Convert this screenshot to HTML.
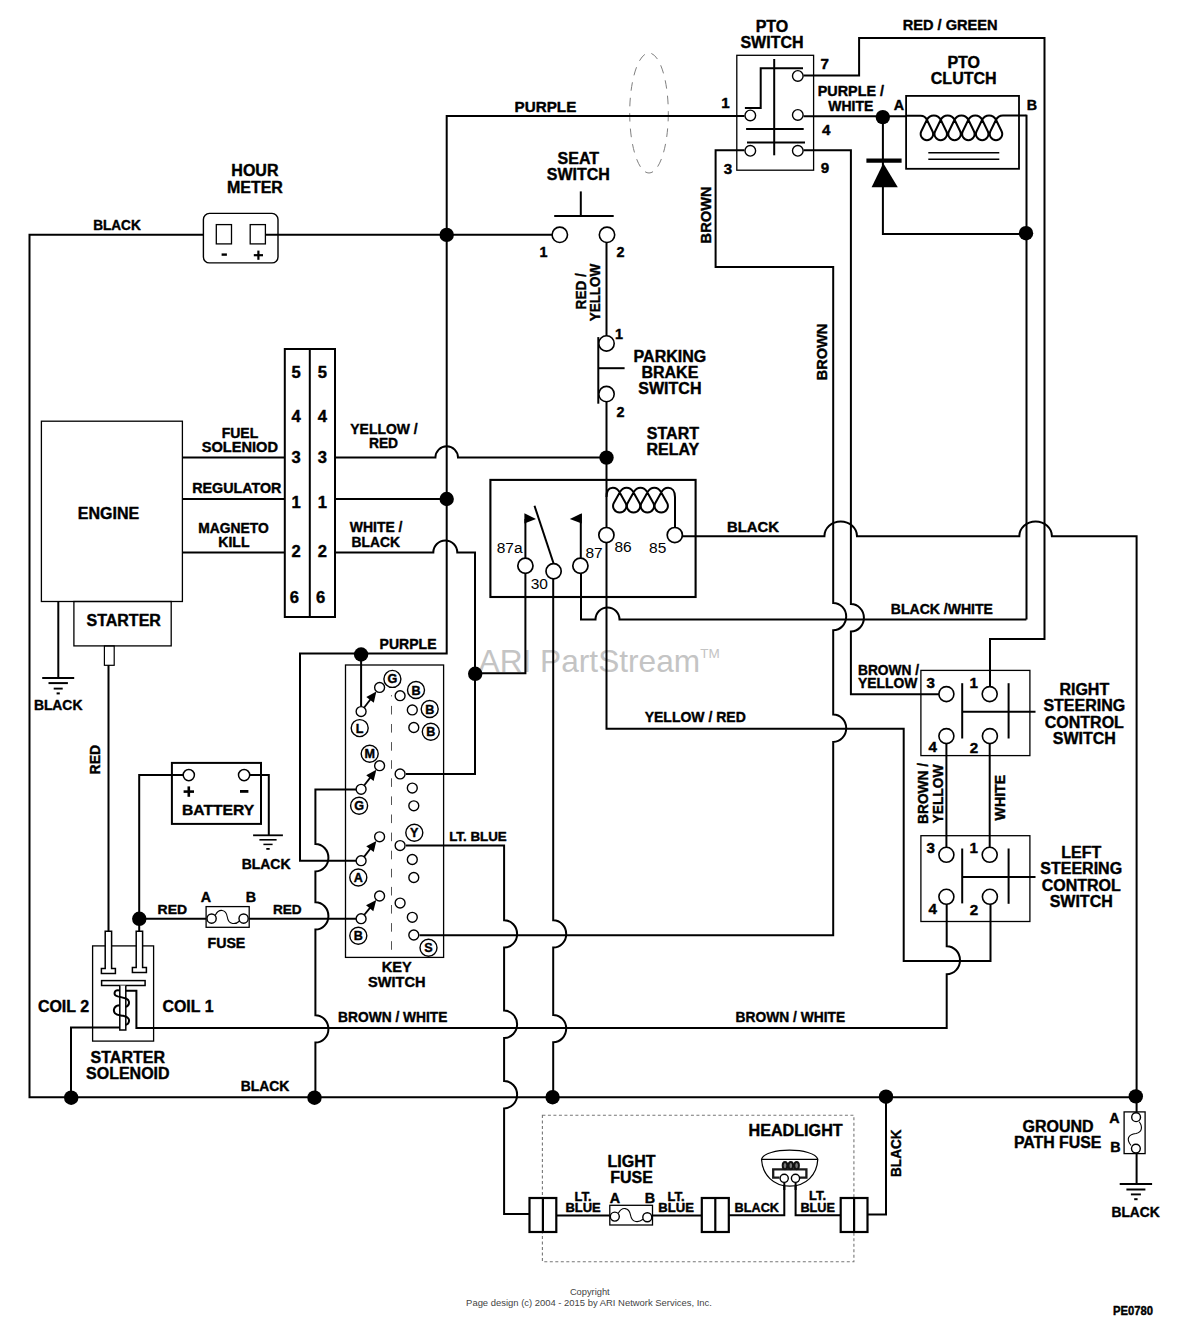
<!DOCTYPE html>
<html><head><meta charset="utf-8"><title>Wiring Diagram</title>
<style>
html,body{margin:0;padding:0;background:#fff;}
body{width:1180px;height:1336px;overflow:hidden;}
svg{display:block;font-family:"Liberation Sans",sans-serif;}
</style></head><body>
<svg width="1180" height="1336" viewBox="0 0 1180 1336" fill="none" stroke="#000" stroke-linecap="butt" stroke-linejoin="miter">
<rect x="0" y="0" width="1180" height="1336" fill="#fff" stroke="none"/>
<text x="478.6" y="672.2" font-size="30.5" text-anchor="start" font-weight="normal" fill="#c4c4c4" stroke="none" textLength="221.5" lengthAdjust="spacingAndGlyphs" >ARI PartStream</text>
<text x="700.3" y="657.5" font-size="13.5" text-anchor="start" font-weight="normal" fill="#c4c4c4" stroke="none" >TM</text>
<ellipse cx="649" cy="113" rx="19.3" ry="60" stroke="#808080" stroke-width="1" stroke-dasharray="8.5 7"/>
<rect x="542.4" y="1115.3" width="311.5" height="146.4" stroke="#777" stroke-width="1.1" stroke-dasharray="3 2.5"/>
<path d="M203.4,234.7 H29.5 V1097.2 H1136.6" stroke-width="2.0" />
<path d="M265.4,234.7 H553" stroke-width="2.0" />
<path d="M744.5,115.9 H446.7 V653.6 H300 V860.7 H356" stroke-width="2.0" />
<path d="M361.1,654 V706.5" stroke-width="2.0" />
<path d="M606.5,241.5 V336.5" stroke-width="2.0" />
<path d="M606.5,401 V528" stroke-width="2.0" />
<path d="M606.5,542.5 V728.8 H903.7 V961 H990.5 V904" stroke-width="2.0" />
<path d="M182.4,457.5 H284" stroke-width="2.0" />
<path d="M182.4,499 H284" stroke-width="2.0" />
<path d="M182.4,552.4 H284" stroke-width="2.0" />
<path d="M335.6,457.6 H435.4 A11.3,11.3 0 0 1 458.0,457.6 H606.5" stroke-width="2.0" />
<path d="M335.6,499 H446.7" stroke-width="2.0" />
<path d="M335.6,552.5 H433.3 A12,12 0 0 1 457.3,552.5 H475 V773.9 H406" stroke-width="2.0" />
<path d="M525.4,572.5 V673.2 H475" stroke-width="2.0" />
<path d="M553.2,578 V920.2 A13.014999999999999,13.7 0 0 1 553.2,947.6 V1014.9 A13.014999999999999,13.7 0 0 1 553.2,1042.3 V1097.2" stroke-width="2.0" />
<path d="M581,572.5 V619.5 H595.5 A12,12 0 0 1 619.5,619.5 H1026.4" stroke-width="2.0" />
<path d="M681.5,536.3 H824.4 A16.3,14.8 0 0 1 857,536.3 H1019.3 A16.3,14.8 0 0 1 1051.9,536.3 H1136.6 V1112" stroke-width="2.0" />
<path d="M1136.6,1153.6 V1184" stroke-width="2.0" />
<path d="M803.5,75.4 H859.1 V38 H1044.5 V639 H990 V687" stroke-width="2.0" />
<path d="M803.5,116.2 H906" stroke-width="2.0" />
<path d="M1026.5,114.8 V619.5" stroke-width="2.0" />
<path d="M882.9,117 V234 H1026" stroke-width="2.0" />
<path d="M803.5,150.2 H850.9 V604.1 A13.014999999999999,13.7 0 0 1 850.9,631.5 V694.3 H939.5" stroke-width="2.0" />
<path d="M744.5,150.2 H715.6 V266.9 H833.2 V602.9 A13.014999999999999,13.7 0 0 1 833.2,630.3 V714.5 A13.014999999999999,13.7 0 0 1 833.2,741.9 V935.2 H419.5" stroke-width="2.0" />
<path d="M946.4,743 V848" stroke-width="2.0" />
<path d="M989.7,743 V848" stroke-width="2.0" />
<path d="M946.7,904 V946.2 A13.299999999999999,14 0 0 1 946.7,974.2 V1028.1 H136.4 V990.8 H125.5" stroke-width="2.0" />
<path d="M120,1027.4 H71 V1097.2" stroke-width="2.0" />
<path d="M356,789.5 H315.4 V844.0 A13.014999999999999,13.7 0 0 1 315.4,871.4 V902.2 A13.014999999999999,13.7 0 0 1 315.4,929.6 V1015.2 A13.014999999999999,13.7 0 0 1 315.4,1042.6 V1097.2" stroke-width="2.0" />
<path d="M406,845.6 H504.1 V920.2 A13.014999999999999,13.7 0 0 1 504.1,947.6 V1010.6 A13.014999999999999,13.7 0 0 1 504.1,1038.0 V1081.0 A13.014999999999999,13.7 0 0 1 504.1,1108.4 V1214 H529.5" stroke-width="2.0" />
<path d="M556.3,1215.6 H609.8" stroke-width="2.0" />
<path d="M652.5,1215.6 H701.8" stroke-width="2.0" />
<path d="M728.8,1215.3 H784.3 V1183" stroke-width="2.0" />
<path d="M795.6,1183 V1215.3 H840.7" stroke-width="2.0" />
<path d="M867.5,1214.6 H886 V1097.2" stroke-width="2.0" />
<path d="M108.5,665 V931" stroke-width="2.0" />
<path d="M183,775.1 H139.2 V931" stroke-width="2.0" />
<path d="M139.2,918.8 H206.1" stroke-width="2.0" />
<path d="M249.2,918.8 H356" stroke-width="2.0" />
<path d="M250,775.1 H268.8 V835.4" stroke-width="2.0" />
<line x1="253.1" y1="835.3" x2="282.9" y2="835.3" stroke-width="1.8" />
<line x1="259.4" y1="839.8" x2="276.6" y2="839.8" stroke-width="1.6" />
<line x1="263.4" y1="844.4" x2="272.6" y2="844.4" stroke-width="1.5" />
<line x1="266.3" y1="848.9" x2="269.7" y2="848.9" stroke-width="1.8" />
<path d="M58.3,601.5 V677.8" stroke-width="2.0" />
<line x1="42.2" y1="678" x2="74.2" y2="678" stroke-width="2.1" />
<line x1="48.5" y1="683.1" x2="67.9" y2="683.1" stroke-width="2" />
<line x1="53.7" y1="688.6" x2="62.7" y2="688.6" stroke-width="1.9" />
<line x1="56.6" y1="693.4" x2="59.8" y2="693.4" stroke-width="2" />
<line x1="1119.7" y1="1184" x2="1152.1" y2="1184" stroke-width="2.1" />
<line x1="1126.4" y1="1189.5" x2="1145.4" y2="1189.5" stroke-width="2" />
<line x1="1130.9" y1="1194.4" x2="1140.9" y2="1194.4" stroke-width="1.9" />
<line x1="1134.2" y1="1199.2" x2="1137.6" y2="1199.2" stroke-width="2" />
<circle cx="446.7" cy="234.9" r="7.2" fill="#000" stroke="none"/>
<circle cx="606.5" cy="457.6" r="7.2" fill="#000" stroke="none"/>
<circle cx="446.7" cy="499" r="7.2" fill="#000" stroke="none"/>
<circle cx="475.2" cy="673.8" r="7.2" fill="#000" stroke="none"/>
<circle cx="361.1" cy="654.5" r="7.2" fill="#000" stroke="none"/>
<circle cx="139.3" cy="918.8" r="7.2" fill="#000" stroke="none"/>
<circle cx="71.2" cy="1097.7" r="7.2" fill="#000" stroke="none"/>
<circle cx="314.5" cy="1097.7" r="7.2" fill="#000" stroke="none"/>
<circle cx="552.6" cy="1097.2" r="7.2" fill="#000" stroke="none"/>
<circle cx="886" cy="1096.7" r="7.2" fill="#000" stroke="none"/>
<circle cx="1135.8" cy="1096.4" r="7.2" fill="#000" stroke="none"/>
<circle cx="882.8" cy="117.1" r="7.2" fill="#000" stroke="none"/>
<circle cx="1026" cy="233.2" r="7.2" fill="#000" stroke="none"/>
<rect x="203.4" y="213.4" width="74.6" height="49.5" rx="6" stroke-width="1.4" />
<rect x="216.3" y="224.6" width="15.2" height="19.3" stroke-width="1.3" fill="#fff"/>
<rect x="250.2" y="224.6" width="15.2" height="19.3" stroke-width="1.3" fill="#fff"/>
<line x1="221.6" y1="254.6" x2="226.9" y2="254.6" stroke-width="2.4" />
<line x1="253.8" y1="255.2" x2="263" y2="255.2" stroke-width="2.2" />
<line x1="258.4" y1="250.6" x2="258.4" y2="259.8" stroke-width="2.2" />
<text x="254.9" y="176.4" font-size="16.0" text-anchor="middle" font-weight="bold" fill="#000" stroke="#000" stroke-width="0.4" stroke-linejoin="round" textLength="47.11" lengthAdjust="spacingAndGlyphs" >HOUR</text>
<text x="254.9" y="192.7" font-size="16.0" text-anchor="middle" font-weight="bold" fill="#000" stroke="#000" stroke-width="0.4" stroke-linejoin="round" textLength="56.0" lengthAdjust="spacingAndGlyphs" >METER</text>
<text x="116.95" y="230.2" font-size="14.6" text-anchor="middle" font-weight="bold" fill="#000" stroke="#000" stroke-width="0.4" stroke-linejoin="round" textLength="47.5" lengthAdjust="spacingAndGlyphs" >BLACK</text>
<rect x="41.4" y="421.2" width="141.0" height="180.3" stroke-width="1.3" />
<text x="108.5" y="518.8" font-size="16.0" text-anchor="middle" font-weight="bold" fill="#000" stroke="#000" stroke-width="0.4" stroke-linejoin="round" textLength="61.34" lengthAdjust="spacingAndGlyphs" >ENGINE</text>
<rect x="73.9" y="601.5" width="97.3" height="44.4" stroke-width="1.3" />
<text x="123.7" y="626.3" font-size="16.0" text-anchor="middle" font-weight="bold" fill="#000" stroke="#000" stroke-width="0.4" stroke-linejoin="round" textLength="74.37" lengthAdjust="spacingAndGlyphs" >STARTER</text>
<rect x="104.4" y="645.9" width="9.8" height="19.4" stroke-width="1.2" />
<rect x="284.8" y="349" width="50.2" height="268" stroke-width="2" />
<line x1="309.8" y1="349" x2="309.8" y2="617" stroke-width="2" />
<text x="296" y="377.5" font-size="16.6" text-anchor="middle" font-weight="bold" fill="#000" stroke="#000" stroke-width="0.4" stroke-linejoin="round" textLength="9.23" lengthAdjust="spacingAndGlyphs" >5</text>
<text x="322.4" y="377.5" font-size="16.6" text-anchor="middle" font-weight="bold" fill="#000" stroke="#000" stroke-width="0.4" stroke-linejoin="round" textLength="9.23" lengthAdjust="spacingAndGlyphs" >5</text>
<text x="296" y="421.59999999999997" font-size="16.6" text-anchor="middle" font-weight="bold" fill="#000" stroke="#000" stroke-width="0.4" stroke-linejoin="round" textLength="9.23" lengthAdjust="spacingAndGlyphs" >4</text>
<text x="322.4" y="421.59999999999997" font-size="16.6" text-anchor="middle" font-weight="bold" fill="#000" stroke="#000" stroke-width="0.4" stroke-linejoin="round" textLength="9.23" lengthAdjust="spacingAndGlyphs" >4</text>
<text x="296" y="462.9" font-size="16.6" text-anchor="middle" font-weight="bold" fill="#000" stroke="#000" stroke-width="0.4" stroke-linejoin="round" textLength="9.23" lengthAdjust="spacingAndGlyphs" >3</text>
<text x="322.4" y="462.9" font-size="16.6" text-anchor="middle" font-weight="bold" fill="#000" stroke="#000" stroke-width="0.4" stroke-linejoin="round" textLength="9.23" lengthAdjust="spacingAndGlyphs" >3</text>
<text x="296" y="508.0" font-size="16.6" text-anchor="middle" font-weight="bold" fill="#000" stroke="#000" stroke-width="0.4" stroke-linejoin="round" textLength="9.23" lengthAdjust="spacingAndGlyphs" >1</text>
<text x="322.4" y="508.0" font-size="16.6" text-anchor="middle" font-weight="bold" fill="#000" stroke="#000" stroke-width="0.4" stroke-linejoin="round" textLength="9.23" lengthAdjust="spacingAndGlyphs" >1</text>
<text x="296" y="557.1999999999999" font-size="16.6" text-anchor="middle" font-weight="bold" fill="#000" stroke="#000" stroke-width="0.4" stroke-linejoin="round" textLength="9.23" lengthAdjust="spacingAndGlyphs" >2</text>
<text x="322.4" y="557.1999999999999" font-size="16.6" text-anchor="middle" font-weight="bold" fill="#000" stroke="#000" stroke-width="0.4" stroke-linejoin="round" textLength="9.23" lengthAdjust="spacingAndGlyphs" >2</text>
<text x="294.3" y="602.9" font-size="16.6" text-anchor="middle" font-weight="bold" fill="#000" stroke="#000" stroke-width="0.4" stroke-linejoin="round" textLength="9.23" lengthAdjust="spacingAndGlyphs" >6</text>
<text x="320.7" y="602.9" font-size="16.6" text-anchor="middle" font-weight="bold" fill="#000" stroke="#000" stroke-width="0.4" stroke-linejoin="round" textLength="9.23" lengthAdjust="spacingAndGlyphs" >6</text>
<text x="240" y="438.1" font-size="14.0" text-anchor="middle" font-weight="bold" fill="#000" stroke="#000" stroke-width="0.4" stroke-linejoin="round" textLength="36.55" lengthAdjust="spacingAndGlyphs" >FUEL</text>
<text x="239.85" y="452.4" font-size="14.0" text-anchor="middle" font-weight="bold" fill="#000" stroke="#000" stroke-width="0.4" stroke-linejoin="round" textLength="76.3" lengthAdjust="spacingAndGlyphs" >SOLENIOD</text>
<text x="236.8" y="493.1" font-size="14.0" text-anchor="middle" font-weight="bold" fill="#000" stroke="#000" stroke-width="0.4" stroke-linejoin="round" textLength="89.2" lengthAdjust="spacingAndGlyphs" >REGULATOR</text>
<text x="233.55" y="533.1" font-size="14.0" text-anchor="middle" font-weight="bold" fill="#000" stroke="#000" stroke-width="0.4" stroke-linejoin="round" textLength="70.5" lengthAdjust="spacingAndGlyphs" >MAGNETO</text>
<text x="233.9" y="546.6" font-size="14.0" text-anchor="middle" font-weight="bold" fill="#000" stroke="#000" stroke-width="0.4" stroke-linejoin="round" textLength="31.1" lengthAdjust="spacingAndGlyphs" >KILL</text>
<text x="384.0" y="434.1" font-size="14.6" text-anchor="middle" font-weight="bold" fill="#000" stroke="#000" stroke-width="0.4" stroke-linejoin="round" textLength="67.4" lengthAdjust="spacingAndGlyphs" >YELLOW /</text>
<text x="383.5" y="447.6" font-size="14.6" text-anchor="middle" font-weight="bold" fill="#000" stroke="#000" stroke-width="0.4" stroke-linejoin="round" textLength="29.2" lengthAdjust="spacingAndGlyphs" >RED</text>
<text x="376.15" y="532.4" font-size="14.6" text-anchor="middle" font-weight="bold" fill="#000" stroke="#000" stroke-width="0.4" stroke-linejoin="round" textLength="52.7" lengthAdjust="spacingAndGlyphs" >WHITE /</text>
<text x="375.75" y="546.6" font-size="14.6" text-anchor="middle" font-weight="bold" fill="#000" stroke="#000" stroke-width="0.4" stroke-linejoin="round" textLength="48.3" lengthAdjust="spacingAndGlyphs" >BLACK</text>
<text x="58.15" y="710.3" font-size="14.6" text-anchor="middle" font-weight="bold" fill="#000" stroke="#000" stroke-width="0.4" stroke-linejoin="round" textLength="48.5" lengthAdjust="spacingAndGlyphs" >BLACK</text>
<text x="100.5" y="759.65" font-size="14.6" text-anchor="middle" font-weight="bold" fill="#000" stroke="#000" stroke-width="0.4" stroke-linejoin="round" transform="rotate(-90 100.5 759.65)" textLength="29.5" lengthAdjust="spacingAndGlyphs" >RED</text>
<rect x="171.9" y="762.9" width="89.1" height="61.0" stroke-width="2" />
<circle cx="188.8" cy="775.1" r="5.6" fill="#fff" stroke-width="1.5"/>
<circle cx="244.1" cy="775.1" r="5.6" fill="#fff" stroke-width="1.5"/>
<line x1="183.6" y1="791.6" x2="194" y2="791.6" stroke-width="2.6" />
<line x1="188.8" y1="786.4" x2="188.8" y2="796.8" stroke-width="2.6" />
<line x1="240" y1="791.4" x2="248.4" y2="791.4" stroke-width="2.8" />
<text x="218.1" y="815.4" font-size="15.5" text-anchor="middle" font-weight="bold" fill="#000" stroke="#000" stroke-width="0.4" stroke-linejoin="round" textLength="72.2" lengthAdjust="spacingAndGlyphs" >BATTERY</text>
<text x="266.1" y="868.6" font-size="14.6" text-anchor="middle" font-weight="bold" fill="#000" stroke="#000" stroke-width="0.4" stroke-linejoin="round" textLength="48.8" lengthAdjust="spacingAndGlyphs" >BLACK</text>
<rect x="206.1" y="906.6" width="43.1" height="20.7" stroke-width="1.3" />
<circle cx="211.6" cy="918.6" r="4.6" fill="#fff" stroke-width="1.4"/>
<circle cx="243.6" cy="918.6" r="4.6" fill="#fff" stroke-width="1.4"/>
<path d="M215.3,915.2 C219,908.2 226,909 227.3,917 C228.5,925.3 236,924.5 239.6,921" stroke-width="1.1" />
<text x="172.35" y="914.4" font-size="13.7" text-anchor="middle" font-weight="bold" fill="#000" stroke="#000" stroke-width="0.4" stroke-linejoin="round" textLength="29.5" lengthAdjust="spacingAndGlyphs" >RED</text>
<text x="287.3" y="914.4" font-size="13.7" text-anchor="middle" font-weight="bold" fill="#000" stroke="#000" stroke-width="0.4" stroke-linejoin="round" textLength="28.8" lengthAdjust="spacingAndGlyphs" >RED</text>
<text x="206" y="901.5" font-size="14.3" text-anchor="middle" font-weight="bold" fill="#000" stroke="#000" stroke-width="0.4" stroke-linejoin="round" textLength="10.33" lengthAdjust="spacingAndGlyphs" >A</text>
<text x="250.8" y="901.5" font-size="14.3" text-anchor="middle" font-weight="bold" fill="#000" stroke="#000" stroke-width="0.4" stroke-linejoin="round" textLength="10.33" lengthAdjust="spacingAndGlyphs" >B</text>
<text x="226.4" y="947.6" font-size="14.2" text-anchor="middle" font-weight="bold" fill="#000" stroke="#000" stroke-width="0.4" stroke-linejoin="round" textLength="37.87" lengthAdjust="spacingAndGlyphs" >FUSE</text>
<rect x="92.6" y="945.9" width="61.0" height="95.2" stroke-width="1.3" />
<path d="M105.2,931.3 H111.60000000000001 V968.5 H115.4 V973.5 H101.4 V968.5 H105.2 Z" fill="#fff" stroke-width="1.5"/>
<path d="M136.20000000000002,931.3 H142.6 V967.5 H146.4 V972.5 H132.4 V967.5 H136.20000000000002 Z" fill="#fff" stroke-width="1.5"/>
<rect x="101.6" y="980.6" width="43.5" height="4.9" stroke-width="1.5" fill="#fff"/>
<path d="M119.8,985.5 V1030 H125.8 V985.5" fill="#fff" stroke-width="1.5"/>
<path d="M119.83,990.53 C113.73,989.18 112.83,995.02 117.76,996.36 C122.70,997.53 128.54,998.16 128.99,1001.75 C129.25,1004.44 127.64,1006.24 125.84,1006.87" stroke-width="2" />
<path d="M119.83,1005.16 C114.62,1005.16 112.38,1009.83 115.07,1013.42 C116.87,1015.48 120.01,1015.22 123.15,1015.84 C127.19,1016.74 129.43,1018.36 128.99,1021.23 C128.81,1023.29 127.37,1024.46 125.84,1024.91" stroke-width="2" />
<text x="63.5" y="1012" font-size="16.0" text-anchor="middle" font-weight="bold" fill="#000" stroke="#000" stroke-width="0.4" stroke-linejoin="round" textLength="51.2" lengthAdjust="spacingAndGlyphs" >COIL 2</text>
<text x="188.0" y="1012" font-size="16.0" text-anchor="middle" font-weight="bold" fill="#000" stroke="#000" stroke-width="0.4" stroke-linejoin="round" textLength="51.0" lengthAdjust="spacingAndGlyphs" >COIL 1</text>
<text x="127.8" y="1062.5" font-size="16.0" text-anchor="middle" font-weight="bold" fill="#000" stroke="#000" stroke-width="0.4" stroke-linejoin="round" textLength="74.37" lengthAdjust="spacingAndGlyphs" >STARTER</text>
<text x="127.8" y="1079.2" font-size="16.0" text-anchor="middle" font-weight="bold" fill="#000" stroke="#000" stroke-width="0.4" stroke-linejoin="round" textLength="83.56" lengthAdjust="spacingAndGlyphs" >SOLENOID</text>
<text x="264.95" y="1091.2" font-size="14.6" text-anchor="middle" font-weight="bold" fill="#000" stroke="#000" stroke-width="0.4" stroke-linejoin="round" textLength="48.5" lengthAdjust="spacingAndGlyphs" >BLACK</text>
<text x="392.75" y="1021.5" font-size="14.6" text-anchor="middle" font-weight="bold" fill="#000" stroke="#000" stroke-width="0.4" stroke-linejoin="round" textLength="109.5" lengthAdjust="spacingAndGlyphs" >BROWN / WHITE</text>
<text x="790.35" y="1021.5" font-size="14.6" text-anchor="middle" font-weight="bold" fill="#000" stroke="#000" stroke-width="0.4" stroke-linejoin="round" textLength="109.5" lengthAdjust="spacingAndGlyphs" >BROWN / WHITE</text>
<circle cx="559.8" cy="234.8" r="7.7" fill="#fff" stroke-width="1.6"/>
<circle cx="607" cy="234.8" r="7.7" fill="#fff" stroke-width="1.6"/>
<line x1="554.2" y1="216.1" x2="613.7" y2="216.1" stroke-width="2" />
<line x1="580.8" y1="191.4" x2="580.8" y2="215" stroke-width="2" />
<text x="578.3" y="163.5" font-size="16.0" text-anchor="middle" font-weight="bold" fill="#000" stroke="#000" stroke-width="0.4" stroke-linejoin="round" textLength="41.49" lengthAdjust="spacingAndGlyphs" >SEAT</text>
<text x="578.3" y="179.8" font-size="16.0" text-anchor="middle" font-weight="bold" fill="#000" stroke="#000" stroke-width="0.4" stroke-linejoin="round" textLength="63.1" lengthAdjust="spacingAndGlyphs" >SWITCH</text>
<text x="543.6" y="257" font-size="14.4" text-anchor="middle" font-weight="bold" fill="#000" stroke="#000" stroke-width="0.4" stroke-linejoin="round" textLength="8.01" lengthAdjust="spacingAndGlyphs" >1</text>
<text x="620.5" y="257" font-size="14.4" text-anchor="middle" font-weight="bold" fill="#000" stroke="#000" stroke-width="0.4" stroke-linejoin="round" textLength="8.01" lengthAdjust="spacingAndGlyphs" >2</text>
<text x="585.5" y="291.25" font-size="14.6" text-anchor="middle" font-weight="bold" fill="#000" stroke="#000" stroke-width="0.4" stroke-linejoin="round" transform="rotate(-90 585.5 291.25)" textLength="36.3" lengthAdjust="spacingAndGlyphs" >RED /</text>
<text x="599.7" y="292.5" font-size="14.6" text-anchor="middle" font-weight="bold" fill="#000" stroke="#000" stroke-width="0.4" stroke-linejoin="round" transform="rotate(-90 599.7 292.5)" textLength="57.6" lengthAdjust="spacingAndGlyphs" >YELLOW</text>
<line x1="598.3" y1="337.1" x2="598.3" y2="403.7" stroke-width="2" />
<line x1="598.3" y1="368.2" x2="624.6" y2="368.2" stroke-width="2" />
<circle cx="606.5" cy="343.4" r="7.7" fill="#fff" stroke-width="1.6"/>
<circle cx="606.5" cy="394.1" r="7.7" fill="#fff" stroke-width="1.6"/>
<text x="619" y="339.2" font-size="14.4" text-anchor="middle" font-weight="bold" fill="#000" stroke="#000" stroke-width="0.4" stroke-linejoin="round" textLength="8.01" lengthAdjust="spacingAndGlyphs" >1</text>
<text x="620.5" y="417.2" font-size="14.4" text-anchor="middle" font-weight="bold" fill="#000" stroke="#000" stroke-width="0.4" stroke-linejoin="round" textLength="8.01" lengthAdjust="spacingAndGlyphs" >2</text>
<text x="669.9" y="362" font-size="16.0" text-anchor="middle" font-weight="bold" fill="#000" stroke="#000" stroke-width="0.4" stroke-linejoin="round" textLength="72.59" lengthAdjust="spacingAndGlyphs" >PARKING</text>
<text x="669.9" y="377.9" font-size="16.0" text-anchor="middle" font-weight="bold" fill="#000" stroke="#000" stroke-width="0.4" stroke-linejoin="round" textLength="56.89" lengthAdjust="spacingAndGlyphs" >BRAKE</text>
<text x="669.9" y="393.7" font-size="16.0" text-anchor="middle" font-weight="bold" fill="#000" stroke="#000" stroke-width="0.4" stroke-linejoin="round" textLength="63.1" lengthAdjust="spacingAndGlyphs" >SWITCH</text>
<text x="545.45" y="111.9" font-size="15.0" text-anchor="middle" font-weight="bold" fill="#000" stroke="#000" stroke-width="0.4" stroke-linejoin="round" textLength="61.7" lengthAdjust="spacingAndGlyphs" >PURPLE</text>
<rect x="736.8" y="55.3" width="76.8" height="114.9" stroke-width="1.3" />
<line x1="774.2" y1="59" x2="774.2" y2="155.3" stroke-width="2" />
<path d="M803,68.3 H760.7 V108.1 H744.9" stroke-width="2.0" />
<line x1="746.1" y1="129" x2="803.7" y2="129" stroke-width="2" />
<line x1="747" y1="142.4" x2="805" y2="142.4" stroke-width="2" />
<circle cx="797.8" cy="75.9" r="5.3" fill="#fff" stroke-width="1.4"/>
<circle cx="750.3" cy="115.4" r="5.3" fill="#fff" stroke-width="1.4"/>
<circle cx="797.8" cy="114.9" r="5.3" fill="#fff" stroke-width="1.4"/>
<circle cx="750.3" cy="150.8" r="5.3" fill="#fff" stroke-width="1.4"/>
<circle cx="797.8" cy="150.8" r="5.3" fill="#fff" stroke-width="1.4"/>
<text x="772" y="31.5" font-size="16.0" text-anchor="middle" font-weight="bold" fill="#000" stroke="#000" stroke-width="0.4" stroke-linejoin="round" textLength="32.6" lengthAdjust="spacingAndGlyphs" >PTO</text>
<text x="772" y="47.5" font-size="16.0" text-anchor="middle" font-weight="bold" fill="#000" stroke="#000" stroke-width="0.4" stroke-linejoin="round" textLength="63.1" lengthAdjust="spacingAndGlyphs" >SWITCH</text>
<text x="824.8" y="68.6" font-size="15.2" text-anchor="middle" font-weight="bold" fill="#000" stroke="#000" stroke-width="0.4" stroke-linejoin="round" textLength="8.45" lengthAdjust="spacingAndGlyphs" >7</text>
<text x="826.2" y="134.6" font-size="15.2" text-anchor="middle" font-weight="bold" fill="#000" stroke="#000" stroke-width="0.4" stroke-linejoin="round" textLength="8.45" lengthAdjust="spacingAndGlyphs" >4</text>
<text x="825" y="172.9" font-size="15.2" text-anchor="middle" font-weight="bold" fill="#000" stroke="#000" stroke-width="0.4" stroke-linejoin="round" textLength="8.45" lengthAdjust="spacingAndGlyphs" >9</text>
<text x="725.4" y="107.8" font-size="15.2" text-anchor="middle" font-weight="bold" fill="#000" stroke="#000" stroke-width="0.4" stroke-linejoin="round" textLength="8.45" lengthAdjust="spacingAndGlyphs" >1</text>
<text x="728" y="173.6" font-size="15.2" text-anchor="middle" font-weight="bold" fill="#000" stroke="#000" stroke-width="0.4" stroke-linejoin="round" textLength="8.45" lengthAdjust="spacingAndGlyphs" >3</text>
<text x="850.9" y="96" font-size="13.8" text-anchor="middle" font-weight="bold" fill="#000" stroke="#000" stroke-width="0.4" stroke-linejoin="round" textLength="66.2" lengthAdjust="spacingAndGlyphs" >PURPLE /</text>
<text x="850.85" y="110.6" font-size="13.8" text-anchor="middle" font-weight="bold" fill="#000" stroke="#000" stroke-width="0.4" stroke-linejoin="round" textLength="45.1" lengthAdjust="spacingAndGlyphs" >WHITE</text>
<text x="950.15" y="29.9" font-size="14.6" text-anchor="middle" font-weight="bold" fill="#000" stroke="#000" stroke-width="0.4" stroke-linejoin="round" textLength="94.9" lengthAdjust="spacingAndGlyphs" >RED / GREEN</text>
<text x="711" y="214.9" font-size="14.6" text-anchor="middle" font-weight="bold" fill="#000" stroke="#000" stroke-width="0.4" stroke-linejoin="round" transform="rotate(-90 711 214.9)" textLength="57.0" lengthAdjust="spacingAndGlyphs" >BROWN</text>
<text x="827.3" y="352.0" font-size="14.6" text-anchor="middle" font-weight="bold" fill="#000" stroke="#000" stroke-width="0.4" stroke-linejoin="round" transform="rotate(-90 827.3 352.0)" textLength="56.6" lengthAdjust="spacingAndGlyphs" >BROWN</text>
<rect x="906.1" y="95.9" width="112.9" height="72.9" stroke-width="1.8" />
<line x1="928.3" y1="152.7" x2="999.3" y2="152.7" stroke-width="1.6" />
<line x1="928.3" y1="159.2" x2="999.3" y2="159.2" stroke-width="1.6" />
<text x="963.7" y="67.5" font-size="16.0" text-anchor="middle" font-weight="bold" fill="#000" stroke="#000" stroke-width="0.4" stroke-linejoin="round" textLength="32.6" lengthAdjust="spacingAndGlyphs" >PTO</text>
<text x="963.7" y="83.7" font-size="16.0" text-anchor="middle" font-weight="bold" fill="#000" stroke="#000" stroke-width="0.4" stroke-linejoin="round" textLength="65.77" lengthAdjust="spacingAndGlyphs" >CLUTCH</text>
<text x="899" y="109.5" font-size="14.3" text-anchor="middle" font-weight="bold" fill="#000" stroke="#000" stroke-width="0.4" stroke-linejoin="round" textLength="10.33" lengthAdjust="spacingAndGlyphs" >A</text>
<text x="1032" y="109.5" font-size="14.3" text-anchor="middle" font-weight="bold" fill="#000" stroke="#000" stroke-width="0.4" stroke-linejoin="round" textLength="10.33" lengthAdjust="spacingAndGlyphs" >B</text>
<path d="M906,115.8 H920 Q924.76,115.4 926.90,119.8 L932.48,131.29 A6.2,6.2 0 1 1 921.32,131.29 L926.90,119.8 Q929.04,115.4 933.81,115.4 Q938.58,115.4 940.72,119.8 L946.30,131.29 A6.2,6.2 0 1 1 935.14,131.29 L940.72,119.8 Q942.86,115.4 947.63,115.4 Q952.40,115.4 954.54,119.8 L960.12,131.29 A6.2,6.2 0 1 1 948.96,131.29 L954.54,119.8 Q956.68,115.4 961.45,115.4 Q966.22,115.4 968.36,119.8 L973.94,131.29 A6.2,6.2 0 1 1 962.78,131.29 L968.36,119.8 Q970.50,115.4 975.27,115.4 Q980.04,115.4 982.18,119.8 L987.76,131.29 A6.2,6.2 0 1 1 976.60,131.29 L982.18,119.8 Q984.32,115.4 989.09,115.4 Q993.86,115.4 996.00,119.8 L1001.58,131.29 A6.2,6.2 0 1 1 990.42,131.29 L996.00,119.8 Q998.14,115.4 1002.91,115.4 H1026.5" stroke-width="2" stroke-linejoin="round"/>
<line x1="866.4" y1="160.7" x2="901.6" y2="160.7" stroke-width="4.2" />
<path d="M883.3,163.2 L897.8,187.2 H871.6 Z" fill="#000" stroke="none"/>
<rect x="490.4" y="479.9" width="205.2" height="117.1" stroke-width="2.1" />
<text x="672.9" y="439" font-size="16.0" text-anchor="middle" font-weight="bold" fill="#000" stroke="#000" stroke-width="0.4" stroke-linejoin="round" textLength="52.14" lengthAdjust="spacingAndGlyphs" >START</text>
<text x="672.9" y="454.9" font-size="16.0" text-anchor="middle" font-weight="bold" fill="#000" stroke="#000" stroke-width="0.4" stroke-linejoin="round" textLength="52.76" lengthAdjust="spacingAndGlyphs" >RELAY</text>
<line x1="525.4" y1="519" x2="525.4" y2="560" stroke-width="2" />
<path d="M524.4,513.2 L536,519 L524.4,523.6 Z" fill="#000" stroke="none"/>
<line x1="580.8" y1="514" x2="580.8" y2="560" stroke-width="2" />
<path d="M581.8,513.2 L569.8,519 L581.8,523.6 Z" fill="#000" stroke="none"/>
<line x1="553.6" y1="563.5" x2="534.5" y2="505.8" stroke-width="2" />
<path d="M606.5,497 C606.5,491 609,487.7 612.8,487.7 Q617.07,487.7 619.70,492.4 L625.46,502.67 A6.6,6.6 0 1 1 613.94,502.67 L619.70,492.4 Q622.33,487.7 626.62,487.7 Q630.92,487.7 633.55,492.4 L639.31,502.67 A6.6,6.6 0 1 1 627.79,502.67 L633.55,492.4 Q636.18,487.7 640.48,487.7 Q644.77,487.7 647.40,492.4 L653.16,502.67 A6.6,6.6 0 1 1 641.64,502.67 L647.40,492.4 Q650.03,487.7 654.33,487.7 Q658.62,487.7 661.25,492.4 L667.01,502.67 A6.6,6.6 0 1 1 655.49,502.67 L661.25,492.4 Q663.88,487.7 668.17,487.7 C672,487.7 675,491 675,497 V528" stroke-width="2" stroke-linejoin="round"/>
<circle cx="606.4" cy="535.1" r="7.6" fill="#fff" stroke-width="1.7"/>
<circle cx="674.8" cy="535.1" r="7.6" fill="#fff" stroke-width="1.7"/>
<circle cx="525.4" cy="565.8" r="7.6" fill="#fff" stroke-width="1.7"/>
<circle cx="553.6" cy="571.2" r="7.6" fill="#fff" stroke-width="1.7"/>
<circle cx="580.4" cy="565.8" r="7.6" fill="#fff" stroke-width="1.7"/>
<text x="509.7" y="553.1" font-size="15.5" text-anchor="middle" font-weight="normal" fill="#000" stroke="none" >87a</text>
<text x="539.3" y="589.2" font-size="15.5" text-anchor="middle" font-weight="normal" fill="#000" stroke="none" >30</text>
<text x="594" y="558" font-size="15.5" text-anchor="middle" font-weight="normal" fill="#000" stroke="none" >87</text>
<text x="623" y="551.9" font-size="15.5" text-anchor="middle" font-weight="normal" fill="#000" stroke="none" >86</text>
<text x="657.7" y="552.5" font-size="15.5" text-anchor="middle" font-weight="normal" fill="#000" stroke="none" >85</text>
<text x="753.05" y="531.5" font-size="14.6" text-anchor="middle" font-weight="bold" fill="#000" stroke="#000" stroke-width="0.4" stroke-linejoin="round" textLength="51.9" lengthAdjust="spacingAndGlyphs" >BLACK</text>
<text x="695.25" y="722" font-size="14.6" text-anchor="middle" font-weight="bold" fill="#000" stroke="#000" stroke-width="0.4" stroke-linejoin="round" textLength="101.1" lengthAdjust="spacingAndGlyphs" >YELLOW / RED</text>
<text x="941.85" y="613.6" font-size="14.6" text-anchor="middle" font-weight="bold" fill="#000" stroke="#000" stroke-width="0.4" stroke-linejoin="round" textLength="102.1" lengthAdjust="spacingAndGlyphs" >BLACK /WHITE</text>
<rect x="345.5" y="665" width="98.1" height="292.4" stroke-width="1.3" />
<line x1="391.5" y1="695.2" x2="391.5" y2="951" stroke-width="1" stroke="#555" stroke-dasharray="8.6 9.5" stroke-dashoffset="7.4"/>
<text x="396.8" y="972.3" font-size="14.6" text-anchor="middle" font-weight="bold" fill="#000" stroke="#000" stroke-width="0.4" stroke-linejoin="round" textLength="30.02" lengthAdjust="spacingAndGlyphs" >KEY</text>
<text x="396.8" y="987.2" font-size="14.6" text-anchor="middle" font-weight="bold" fill="#000" stroke="#000" stroke-width="0.4" stroke-linejoin="round" textLength="57.58" lengthAdjust="spacingAndGlyphs" >SWITCH</text>
<text x="408.05" y="648.5" font-size="14.6" text-anchor="middle" font-weight="bold" fill="#000" stroke="#000" stroke-width="0.4" stroke-linejoin="round" textLength="56.9" lengthAdjust="spacingAndGlyphs" >PURPLE</text>
<text x="478.0" y="840.7" font-size="13.2" text-anchor="middle" font-weight="bold" fill="#000" stroke="#000" stroke-width="0.4" stroke-linejoin="round" textLength="57.6" lengthAdjust="spacingAndGlyphs" >LT. BLUE</text>
<line x1="363.83" y1="708.02" x2="371.52" y2="697.97" stroke-width="1.8" />
<path d="M376.38,691.61 L373.80,702.73 L366.33,697.02 Z" fill="#000" stroke="none"/>
<circle cx="379.6" cy="687.4" r="4.95" fill="#fff" stroke-width="1.4"/>
<circle cx="361.1" cy="711.6" r="4.95" fill="#fff" stroke-width="1.4"/>
<line x1="363.88" y1="785.76" x2="371.39" y2="776.17" stroke-width="1.8" />
<path d="M376.33,769.87 L373.61,780.96 L366.22,775.16 Z" fill="#000" stroke="none"/>
<circle cx="379.6" cy="765.7" r="4.95" fill="#fff" stroke-width="1.4"/>
<circle cx="361.1" cy="789.3" r="4.95" fill="#fff" stroke-width="1.4"/>
<line x1="363.85" y1="857.14" x2="371.46" y2="847.32" stroke-width="1.8" />
<path d="M376.36,840.99 L373.71,852.09 L366.27,846.34 Z" fill="#000" stroke="none"/>
<circle cx="379.6" cy="836.8" r="4.95" fill="#fff" stroke-width="1.4"/>
<circle cx="361.1" cy="860.7" r="4.95" fill="#fff" stroke-width="1.4"/>
<line x1="363.94" y1="915.21" x2="371.2" y2="906.31" stroke-width="1.8" />
<path d="M376.25,900.11 L373.32,911.14 L366.04,905.20 Z" fill="#000" stroke="none"/>
<circle cx="379.6" cy="896" r="4.95" fill="#fff" stroke-width="1.4"/>
<circle cx="361.1" cy="918.7" r="4.95" fill="#fff" stroke-width="1.4"/>
<circle cx="400.1" cy="695.7" r="4.95" fill="#fff" stroke-width="1.4"/>
<circle cx="412.3" cy="709.9" r="4.95" fill="#fff" stroke-width="1.4"/>
<circle cx="413.8" cy="727.5" r="4.95" fill="#fff" stroke-width="1.4"/>
<circle cx="400.1" cy="773.9" r="4.95" fill="#fff" stroke-width="1.4"/>
<circle cx="412.3" cy="788.1" r="4.95" fill="#fff" stroke-width="1.4"/>
<circle cx="413.8" cy="805.8" r="4.95" fill="#fff" stroke-width="1.4"/>
<circle cx="400.1" cy="845.6" r="4.95" fill="#fff" stroke-width="1.4"/>
<circle cx="412.3" cy="859.5" r="4.95" fill="#fff" stroke-width="1.4"/>
<circle cx="413.8" cy="877.5" r="4.95" fill="#fff" stroke-width="1.4"/>
<circle cx="400.1" cy="903.1" r="4.95" fill="#fff" stroke-width="1.4"/>
<circle cx="412.3" cy="917.3" r="4.95" fill="#fff" stroke-width="1.4"/>
<circle cx="413.8" cy="935" r="4.95" fill="#fff" stroke-width="1.4"/>
<circle cx="392.4" cy="678.9" r="8.5" fill="#fff" stroke-width="1.4"/>
<text x="392.4" y="683.4" font-size="12.6" text-anchor="middle" font-weight="bold" fill="#000" stroke="#000" stroke-width="0.4" stroke-linejoin="round" textLength="9.8" lengthAdjust="spacingAndGlyphs" >G</text>
<circle cx="359.7" cy="728.1" r="8.5" fill="#fff" stroke-width="1.4"/>
<text x="359.7" y="732.6" font-size="12.6" text-anchor="middle" font-weight="bold" fill="#000" stroke="#000" stroke-width="0.4" stroke-linejoin="round" textLength="7.7" lengthAdjust="spacingAndGlyphs" >L</text>
<circle cx="416" cy="690" r="8.5" fill="#fff" stroke-width="1.4"/>
<text x="416" y="694.5" font-size="12.6" text-anchor="middle" font-weight="bold" fill="#000" stroke="#000" stroke-width="0.4" stroke-linejoin="round" textLength="9.1" lengthAdjust="spacingAndGlyphs" >B</text>
<circle cx="429.7" cy="709" r="8.5" fill="#fff" stroke-width="1.4"/>
<text x="429.7" y="713.5" font-size="12.6" text-anchor="middle" font-weight="bold" fill="#000" stroke="#000" stroke-width="0.4" stroke-linejoin="round" textLength="9.1" lengthAdjust="spacingAndGlyphs" >B</text>
<circle cx="430.8" cy="731.8" r="8.5" fill="#fff" stroke-width="1.4"/>
<text x="430.8" y="736.3" font-size="12.6" text-anchor="middle" font-weight="bold" fill="#000" stroke="#000" stroke-width="0.4" stroke-linejoin="round" textLength="9.1" lengthAdjust="spacingAndGlyphs" >B</text>
<circle cx="369.7" cy="753.7" r="8.5" fill="#fff" stroke-width="1.4"/>
<text x="369.7" y="758.2" font-size="12.6" text-anchor="middle" font-weight="bold" fill="#000" stroke="#000" stroke-width="0.4" stroke-linejoin="round" textLength="10.5" lengthAdjust="spacingAndGlyphs" >M</text>
<circle cx="359.1" cy="805.8" r="8.5" fill="#fff" stroke-width="1.4"/>
<text x="359.1" y="810.3" font-size="12.6" text-anchor="middle" font-weight="bold" fill="#000" stroke="#000" stroke-width="0.4" stroke-linejoin="round" textLength="9.8" lengthAdjust="spacingAndGlyphs" >G</text>
<circle cx="414.3" cy="832.8" r="8.5" fill="#fff" stroke-width="1.4"/>
<text x="414.3" y="837.3" font-size="12.6" text-anchor="middle" font-weight="bold" fill="#000" stroke="#000" stroke-width="0.4" stroke-linejoin="round" textLength="8.4" lengthAdjust="spacingAndGlyphs" >Y</text>
<circle cx="358.3" cy="877.5" r="8.5" fill="#fff" stroke-width="1.4"/>
<text x="358.3" y="882.0" font-size="12.6" text-anchor="middle" font-weight="bold" fill="#000" stroke="#000" stroke-width="0.4" stroke-linejoin="round" textLength="9.1" lengthAdjust="spacingAndGlyphs" >A</text>
<circle cx="358.3" cy="935.8" r="8.5" fill="#fff" stroke-width="1.4"/>
<text x="358.3" y="940.3" font-size="12.6" text-anchor="middle" font-weight="bold" fill="#000" stroke="#000" stroke-width="0.4" stroke-linejoin="round" textLength="9.1" lengthAdjust="spacingAndGlyphs" >B</text>
<circle cx="428.5" cy="947.7" r="8.5" fill="#fff" stroke-width="1.4"/>
<text x="428.5" y="952.2" font-size="12.6" text-anchor="middle" font-weight="bold" fill="#000" stroke="#000" stroke-width="0.4" stroke-linejoin="round" textLength="8.4" lengthAdjust="spacingAndGlyphs" >S</text>
<rect x="920.9" y="670.4" width="109.0" height="85.2" stroke-width="1.3" />
<line x1="962.2" y1="683.2" x2="962.2" y2="738.5" stroke-width="2" />
<line x1="1008.6" y1="683.2" x2="1008.6" y2="738.5" stroke-width="2" />
<line x1="962.2" y1="711.8" x2="1035.5" y2="711.8" stroke-width="2" />
<circle cx="946.4" cy="694.1" r="7.5" fill="#fff" stroke-width="1.6"/>
<circle cx="989.7" cy="694.1" r="7.5" fill="#fff" stroke-width="1.6"/>
<circle cx="946.4" cy="736.1" r="7.5" fill="#fff" stroke-width="1.6"/>
<circle cx="989.9" cy="736.1" r="7.5" fill="#fff" stroke-width="1.6"/>
<text x="930.7" y="688.1" font-size="15.2" text-anchor="middle" font-weight="bold" fill="#000" stroke="#000" stroke-width="0.4" stroke-linejoin="round" textLength="8.45" lengthAdjust="spacingAndGlyphs" >3</text>
<text x="973.8" y="688" font-size="15.2" text-anchor="middle" font-weight="bold" fill="#000" stroke="#000" stroke-width="0.4" stroke-linejoin="round" textLength="8.45" lengthAdjust="spacingAndGlyphs" >1</text>
<text x="932.7" y="752.2" font-size="15.2" text-anchor="middle" font-weight="bold" fill="#000" stroke="#000" stroke-width="0.4" stroke-linejoin="round" textLength="8.45" lengthAdjust="spacingAndGlyphs" >4</text>
<text x="974" y="752.5" font-size="15.2" text-anchor="middle" font-weight="bold" fill="#000" stroke="#000" stroke-width="0.4" stroke-linejoin="round" textLength="8.45" lengthAdjust="spacingAndGlyphs" >2</text>
<text x="1084.3" y="694.8" font-size="16.0" text-anchor="middle" font-weight="bold" fill="#000" stroke="#000" stroke-width="0.4" stroke-linejoin="round" textLength="49.77" lengthAdjust="spacingAndGlyphs" >RIGHT</text>
<text x="1084.3" y="711.1999999999999" font-size="16.0" text-anchor="middle" font-weight="bold" fill="#000" stroke="#000" stroke-width="0.4" stroke-linejoin="round" textLength="81.79" lengthAdjust="spacingAndGlyphs" >STEERING</text>
<text x="1084.3" y="727.6999999999999" font-size="16.0" text-anchor="middle" font-weight="bold" fill="#000" stroke="#000" stroke-width="0.4" stroke-linejoin="round" textLength="79.1" lengthAdjust="spacingAndGlyphs" >CONTROL</text>
<text x="1084.3" y="743.8" font-size="16.0" text-anchor="middle" font-weight="bold" fill="#000" stroke="#000" stroke-width="0.4" stroke-linejoin="round" textLength="63.1" lengthAdjust="spacingAndGlyphs" >SWITCH</text>
<rect x="920.9" y="835.7" width="109.0" height="85.8" stroke-width="1.3" />
<line x1="962.2" y1="848.5" x2="962.2" y2="903.4" stroke-width="2" />
<line x1="1008.6" y1="848.5" x2="1008.6" y2="903.8" stroke-width="2" />
<line x1="962.2" y1="877.0999999999999" x2="1035.5" y2="877.0999999999999" stroke-width="2" />
<circle cx="946.4" cy="854.8" r="7.5" fill="#fff" stroke-width="1.6"/>
<circle cx="989.7" cy="854.8" r="7.5" fill="#fff" stroke-width="1.6"/>
<circle cx="946.4" cy="896.8" r="7.5" fill="#fff" stroke-width="1.6"/>
<circle cx="989.9" cy="896.8" r="7.5" fill="#fff" stroke-width="1.6"/>
<text x="930.7" y="853.4000000000001" font-size="15.2" text-anchor="middle" font-weight="bold" fill="#000" stroke="#000" stroke-width="0.4" stroke-linejoin="round" textLength="8.45" lengthAdjust="spacingAndGlyphs" >3</text>
<text x="973.8" y="853.3" font-size="15.2" text-anchor="middle" font-weight="bold" fill="#000" stroke="#000" stroke-width="0.4" stroke-linejoin="round" textLength="8.45" lengthAdjust="spacingAndGlyphs" >1</text>
<text x="932.7" y="914.4000000000001" font-size="15.2" text-anchor="middle" font-weight="bold" fill="#000" stroke="#000" stroke-width="0.4" stroke-linejoin="round" textLength="8.45" lengthAdjust="spacingAndGlyphs" >4</text>
<text x="974" y="914.7" font-size="15.2" text-anchor="middle" font-weight="bold" fill="#000" stroke="#000" stroke-width="0.4" stroke-linejoin="round" textLength="8.45" lengthAdjust="spacingAndGlyphs" >2</text>
<text x="1081.2" y="857.6999999999999" font-size="16.0" text-anchor="middle" font-weight="bold" fill="#000" stroke="#000" stroke-width="0.4" stroke-linejoin="round" textLength="39.99" lengthAdjust="spacingAndGlyphs" >LEFT</text>
<text x="1081.2" y="874.0999999999999" font-size="16.0" text-anchor="middle" font-weight="bold" fill="#000" stroke="#000" stroke-width="0.4" stroke-linejoin="round" textLength="81.79" lengthAdjust="spacingAndGlyphs" >STEERING</text>
<text x="1081.2" y="890.5999999999999" font-size="16.0" text-anchor="middle" font-weight="bold" fill="#000" stroke="#000" stroke-width="0.4" stroke-linejoin="round" textLength="79.1" lengthAdjust="spacingAndGlyphs" >CONTROL</text>
<text x="1081.2" y="906.6999999999999" font-size="16.0" text-anchor="middle" font-weight="bold" fill="#000" stroke="#000" stroke-width="0.4" stroke-linejoin="round" textLength="63.1" lengthAdjust="spacingAndGlyphs" >SWITCH</text>
<text x="888.5" y="674.6" font-size="14.6" text-anchor="middle" font-weight="bold" fill="#000" stroke="#000" stroke-width="0.4" stroke-linejoin="round" textLength="61" lengthAdjust="spacingAndGlyphs" >BROWN /</text>
<text x="887.65" y="688.1" font-size="14.6" text-anchor="middle" font-weight="bold" fill="#000" stroke="#000" stroke-width="0.4" stroke-linejoin="round" textLength="59.3" lengthAdjust="spacingAndGlyphs" >YELLOW</text>
<text x="928" y="793.4" font-size="14.6" text-anchor="middle" font-weight="bold" fill="#000" stroke="#000" stroke-width="0.4" stroke-linejoin="round" transform="rotate(-90 928 793.4)" textLength="61.0" lengthAdjust="spacingAndGlyphs" >BROWN /</text>
<text x="942.8" y="794.0" font-size="14.6" text-anchor="middle" font-weight="bold" fill="#000" stroke="#000" stroke-width="0.4" stroke-linejoin="round" transform="rotate(-90 942.8 794.0)" textLength="58.8" lengthAdjust="spacingAndGlyphs" >YELLOW</text>
<text x="1004.6" y="797.6" font-size="14.6" text-anchor="middle" font-weight="bold" fill="#000" stroke="#000" stroke-width="0.4" stroke-linejoin="round" transform="rotate(-90 1004.6 797.6)" textLength="45.6" lengthAdjust="spacingAndGlyphs" >WHITE</text>
<rect x="1124.1" y="1111.9" width="21.0" height="41.7" stroke-width="1.3" fill="#fff"/>
<circle cx="1136.1" cy="1117.2" r="4.4" fill="#fff" stroke-width="1.4"/>
<circle cx="1135.9" cy="1148.6" r="4.4" fill="#fff" stroke-width="1.4"/>
<path d="M1139.2,1121.8 C1143,1127 1142,1132 1136,1133.5 C1128,1134.5 1126,1139 1131,1145.5" stroke-width="1.1" />
<text x="1114.4" y="1123.2" font-size="14.3" text-anchor="middle" font-weight="bold" fill="#000" stroke="#000" stroke-width="0.4" stroke-linejoin="round" textLength="10.33" lengthAdjust="spacingAndGlyphs" >A</text>
<text x="1115.4" y="1152.4" font-size="14.3" text-anchor="middle" font-weight="bold" fill="#000" stroke="#000" stroke-width="0.4" stroke-linejoin="round" textLength="10.33" lengthAdjust="spacingAndGlyphs" >B</text>
<text x="1058" y="1131.5" font-size="16.0" text-anchor="middle" font-weight="bold" fill="#000" stroke="#000" stroke-width="0.4" stroke-linejoin="round" textLength="71.11" lengthAdjust="spacingAndGlyphs" >GROUND</text>
<text x="1057.65" y="1147.5" font-size="16.0" text-anchor="middle" font-weight="bold" fill="#000" stroke="#000" stroke-width="0.4" stroke-linejoin="round" textLength="87.5" lengthAdjust="spacingAndGlyphs" >PATH FUSE</text>
<text x="1135.6" y="1217" font-size="14.6" text-anchor="middle" font-weight="bold" fill="#000" stroke="#000" stroke-width="0.4" stroke-linejoin="round" textLength="48.2" lengthAdjust="spacingAndGlyphs" >BLACK</text>
<rect x="529.5" y="1198" width="26.8" height="34" stroke-width="2.2" fill="#fff"/>
<line x1="542.9" y1="1198" x2="542.9" y2="1232" stroke-width="2.2" />
<rect x="701.8" y="1198" width="27.0" height="34" stroke-width="2.2" fill="#fff"/>
<line x1="715.3" y1="1198" x2="715.3" y2="1232" stroke-width="2.2" />
<rect x="840.7" y="1198" width="26.8" height="34" stroke-width="2.2" fill="#fff"/>
<line x1="854.1" y1="1198" x2="854.1" y2="1232" stroke-width="2.2" />
<rect x="609.8" y="1205.3" width="42.7" height="19.7" stroke-width="1.3" fill="#fff"/>
<circle cx="614.8" cy="1216.6" r="4.5" fill="#fff" stroke-width="1.4"/>
<circle cx="647.3" cy="1217.2" r="4.5" fill="#fff" stroke-width="1.4"/>
<path d="M618.3,1213.2 C622,1206.5 629,1207 630.5,1215 C632,1223.5 639,1222.5 643,1219.3" stroke-width="1.1" />
<text x="631.5" y="1166.7" font-size="16.0" text-anchor="middle" font-weight="bold" fill="#000" stroke="#000" stroke-width="0.4" stroke-linejoin="round" textLength="47.99" lengthAdjust="spacingAndGlyphs" >LIGHT</text>
<text x="631.5" y="1182.6" font-size="16.0" text-anchor="middle" font-weight="bold" fill="#000" stroke="#000" stroke-width="0.4" stroke-linejoin="round" textLength="42.67" lengthAdjust="spacingAndGlyphs" >FUSE</text>
<text x="614.8" y="1203.3" font-size="14.3" text-anchor="middle" font-weight="bold" fill="#000" stroke="#000" stroke-width="0.4" stroke-linejoin="round" textLength="10.33" lengthAdjust="spacingAndGlyphs" >A</text>
<text x="649.8" y="1203.3" font-size="14.3" text-anchor="middle" font-weight="bold" fill="#000" stroke="#000" stroke-width="0.4" stroke-linejoin="round" textLength="10.33" lengthAdjust="spacingAndGlyphs" >B</text>
<text x="583.05" y="1200.5" font-size="11.9" text-anchor="middle" font-weight="bold" fill="#000" stroke="#000" stroke-width="0.4" stroke-linejoin="round" textLength="16.9" lengthAdjust="spacingAndGlyphs" >LT.</text>
<text x="583.05" y="1212.1" font-size="11.9" text-anchor="middle" font-weight="bold" fill="#000" stroke="#000" stroke-width="0.4" stroke-linejoin="round" textLength="35.3" lengthAdjust="spacingAndGlyphs" >BLUE</text>
<text x="676.0" y="1200.5" font-size="11.9" text-anchor="middle" font-weight="bold" fill="#000" stroke="#000" stroke-width="0.4" stroke-linejoin="round" textLength="17.0" lengthAdjust="spacingAndGlyphs" >LT.</text>
<text x="676.1" y="1212.1" font-size="11.9" text-anchor="middle" font-weight="bold" fill="#000" stroke="#000" stroke-width="0.4" stroke-linejoin="round" textLength="35.6" lengthAdjust="spacingAndGlyphs" >BLUE</text>
<text x="756.8" y="1211.7" font-size="12.8" text-anchor="middle" font-weight="bold" fill="#000" stroke="#000" stroke-width="0.4" stroke-linejoin="round" textLength="44.4" lengthAdjust="spacingAndGlyphs" >BLACK</text>
<text x="817.55" y="1200.2" font-size="11.9" text-anchor="middle" font-weight="bold" fill="#000" stroke="#000" stroke-width="0.4" stroke-linejoin="round" textLength="16.9" lengthAdjust="spacingAndGlyphs" >LT.</text>
<text x="817.7" y="1212" font-size="11.9" text-anchor="middle" font-weight="bold" fill="#000" stroke="#000" stroke-width="0.4" stroke-linejoin="round" textLength="34.6" lengthAdjust="spacingAndGlyphs" >BLUE</text>
<text x="900.8" y="1153.2" font-size="14.6" text-anchor="middle" font-weight="bold" fill="#000" stroke="#000" stroke-width="0.4" stroke-linejoin="round" transform="rotate(-90 900.8 1153.2)" textLength="47.4" lengthAdjust="spacingAndGlyphs" >BLACK</text>
<text x="795.6" y="1135.6" font-size="16.0" text-anchor="middle" font-weight="bold" fill="#000" stroke="#000" stroke-width="0.4" stroke-linejoin="round" textLength="94.2" lengthAdjust="spacingAndGlyphs" >HEADLIGHT</text>
<path d="M761.5,1159.3 C765,1147.2 814,1147.2 817.8,1159.3 C817,1175 806,1186.2 789.7,1186.2 C773.5,1186.2 762.5,1175 761.5,1159.3 Z" fill="#fff" stroke-width="1.25"/>
<line x1="761.5" y1="1159.3" x2="817.8" y2="1159.3" stroke-width="1.15" />
<path d="M779.5,1177.6 H773.2 V1169.3 H806.4 V1177.6 H800" stroke-width="2.3" stroke="#1a1a1a"/>
<ellipse cx="785" cy="1165.6" rx="2.3" ry="3.6" stroke-width="2" stroke="#111" fill="#777"/>
<ellipse cx="790.8" cy="1165.6" rx="2.3" ry="3.6" stroke-width="2" stroke="#111" fill="#777"/>
<ellipse cx="796.6" cy="1165.6" rx="2.3" ry="3.6" stroke-width="2" stroke="#111" fill="#777"/>
<circle cx="784.2" cy="1178.3" r="4.1" fill="#fff" stroke-width="1.4"/>
<circle cx="795.5" cy="1178.3" r="4.1" fill="#fff" stroke-width="1.4"/>
<line x1="784.3" y1="1182.6" x2="784.3" y2="1190" stroke-width="2" />
<line x1="795.6" y1="1182.6" x2="795.6" y2="1190" stroke-width="2" />
<text x="589.8" y="1294.5" font-size="9.3" text-anchor="middle" font-weight="normal" fill="#444" stroke="none" >Copyright</text>
<text x="589.0" y="1305.7" font-size="9.3" text-anchor="middle" font-weight="normal" fill="#444" stroke="none" textLength="245.8" lengthAdjust="spacingAndGlyphs" >Page design (c) 2004 - 2015 by ARI Network Services, Inc.</text>
<text x="1133.0" y="1315" font-size="12.0" text-anchor="middle" font-weight="bold" fill="#000" stroke="#000" stroke-width="0.4" stroke-linejoin="round" textLength="40" lengthAdjust="spacingAndGlyphs" >PE0780</text>
</svg>
</body></html>
